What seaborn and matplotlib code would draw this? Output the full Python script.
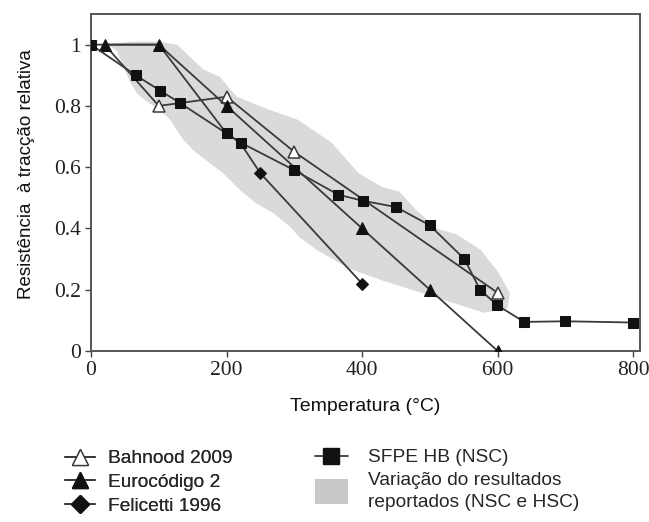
import matplotlib
matplotlib.use("Agg")
import matplotlib.pyplot as plt
from matplotlib.lines import Line2D
from matplotlib.patches import Patch, Rectangle
from matplotlib.legend_handler import HandlerPatch
import seaborn as sns

# ---- data ----
bahnood_x = [20, 100, 200, 300, 600]
bahnood_y = [1.0, 0.80, 0.83, 0.65, 0.19]

ec2_x = [20, 100, 200, 400, 500, 600]
ec2_y = [1.0, 1.0, 0.80, 0.40, 0.20, 0.0]

felicetti_x = [0, 100, 200, 220, 250, 400]
felicetti_y = [1.0, 1.0, 0.71, 0.68, 0.58, 0.22]

sfpe_x = [0, 66, 102, 131, 200, 221, 300, 365, 402, 450, 500, 551, 574, 599, 639, 700, 800]
sfpe_y = [1.0, 0.90, 0.85, 0.81, 0.71, 0.68, 0.59, 0.51, 0.49, 0.47, 0.41, 0.30, 0.20, 0.15, 0.095, 0.097, 0.093]

band_upper_x = [25, 60, 100, 127, 146, 165, 190, 215, 260, 305, 355, 395, 430, 455, 480, 510, 540, 575, 600, 618, 615]
band_upper_y = [1.0, 1.01, 1.01, 1.0, 0.96, 0.92, 0.895, 0.83, 0.79, 0.755, 0.68, 0.58, 0.535, 0.52, 0.46, 0.40, 0.38, 0.33, 0.26, 0.19, 0.14]
band_lower_x = [580, 530, 480, 430, 380, 333, 308, 294, 269, 245, 220, 195, 171, 151, 136, 127, 117, 102, 92, 82, 68, 57, 48, 38]
band_lower_y = [0.125, 0.16, 0.195, 0.23, 0.27, 0.33, 0.37, 0.405, 0.45, 0.48, 0.525, 0.58, 0.62, 0.655, 0.69, 0.72, 0.754, 0.787, 0.80, 0.815, 0.84, 0.88, 0.93, 0.98]

x_ticks = [0, 200, 400, 600, 800]
y_ticks = [0, 0.2, 0.4, 0.6, 0.8, 1.0]
y_tick_labels = ["0", "0.2", "0.4", "0.6", "0.8", "1"]

labels = ["Bahnood 2009", "Eurocódigo 2", "Felicetti 1996", "SFPE HB (NSC)",
          "Variação do resultados\nreportados (NSC e HSC)"]

# ---- style ----
sns.set_style("ticks")
plt.rcParams["font.family"] = ["Liberation Sans", "DejaVu Sans"]

W, H = 649, 522
fig = plt.figure(figsize=(W / 100, H / 100), dpi=100)
ax = fig.add_axes([91 / W, 1 - 351 / H, (640 - 91) / W, (351 - 14) / H])

line_c = "#3a3a3a"
band_c = "#dadada"
lw = 1.3

ax.fill(band_upper_x + band_lower_x, band_upper_y + band_lower_y,
        color=band_c, lw=0, zorder=0)

sns.lineplot(x=felicetti_x, y=felicetti_y, ax=ax, color=line_c, lw=lw,
             marker="D", markersize=6, markerfacecolor="#111111",
             markeredgecolor="#111111", markevery=[4, 5], sort=False,
             estimator=None, zorder=2)
sns.lineplot(x=bahnood_x, y=bahnood_y, ax=ax, color=line_c, lw=lw,
             marker="^", markersize=9, markerfacecolor="white",
             markeredgecolor=line_c, markeredgewidth=1.1, markevery=[1, 2, 3, 4],
             sort=False, estimator=None, zorder=3)
sns.lineplot(x=ec2_x, y=ec2_y, ax=ax, color=line_c, lw=lw,
             marker="^", markersize=8.5, markerfacecolor="#111111",
             markeredgecolor="#111111", sort=False, estimator=None, zorder=4)
sns.lineplot(x=sfpe_x, y=sfpe_y, ax=ax, color=line_c, lw=lw,
             marker="s", markersize=7.3, markerfacecolor="#111111",
             markeredgecolor="#111111", sort=False, estimator=None, zorder=5)

ax.set_xlim(0, 810)
ax.set_ylim(0, 1.10)
ax.set_xticks(x_ticks)
ax.set_yticks(y_ticks)
ax.set_yticklabels(y_tick_labels)
for lab in ax.get_xticklabels() + ax.get_yticklabels():
    lab.set_fontfamily("Liberation Serif")
    lab.set_fontsize(15.5)
ax.tick_params(direction="out", length=4, width=1.0, color="#444444",
               labelcolor="#222222", pad=3)
for sp in ax.spines.values():
    sp.set_visible(True)
    sp.set_color("#555555")
    sp.set_linewidth(1.4)

ax.set_xlabel("Temperatura (°C)", fontsize=14, color="#111111")
ax.xaxis.set_label_coords(0.5, (351 - 398) / 337)
ax.set_ylabel("Resistência  à tracção relativa", fontsize=13.5, color="#111111")
ax.yaxis.set_label_coords((35 - 91) / 549, 0.525)

# ---- legends ----
def tall_patch(legend, orig_handle, xdescent, ydescent, width, height, fontsize):
    h = 1.3 * fontsize
    return Rectangle((-xdescent, -ydescent + height / 2 - h / 2), width, h)

h_b = Line2D([], [], color=line_c, lw=lw, marker="^", markersize=11.5,
             markerfacecolor="white", markeredgecolor=line_c)
h_e = Line2D([], [], color=line_c, lw=lw, marker="^", markersize=11.5,
             markerfacecolor="#111111", markeredgecolor="#111111")
h_f = Line2D([], [], color=line_c, lw=lw, marker="D", markersize=9,
             markerfacecolor="#111111", markeredgecolor="#111111")
h_s = Line2D([], [], color=line_c, lw=lw, marker="s", markersize=11,
             markerfacecolor="#111111", markeredgecolor="#111111")
h_r = Patch(facecolor="#c8c8c8", edgecolor="none")

fs = 13.8
leg1 = fig.legend([h_b, h_e, h_f], labels[:3], loc="upper left",
                  bbox_to_anchor=(65 / W, 1 - 450 / H), frameon=False,
                  fontsize=fs, handlelength=1.55, handletextpad=0.68,
                  labelspacing=0.33, borderpad=0, borderaxespad=0)
fig.add_artist(leg1)
leg2 = fig.legend([h_s, h_r], labels[3:], loc="upper left",
                  bbox_to_anchor=(315 / W, 1 - 449 / H), frameon=False,
                  fontsize=fs, handlelength=1.7, handletextpad=1.04,
                  labelspacing=0.3, borderpad=0, borderaxespad=0,
                  handler_map={Patch: HandlerPatch(patch_func=tall_patch)})
for t in leg2.get_texts():
    t.set_linespacing(1.35)

fig.savefig("out.png", dpi=100)
